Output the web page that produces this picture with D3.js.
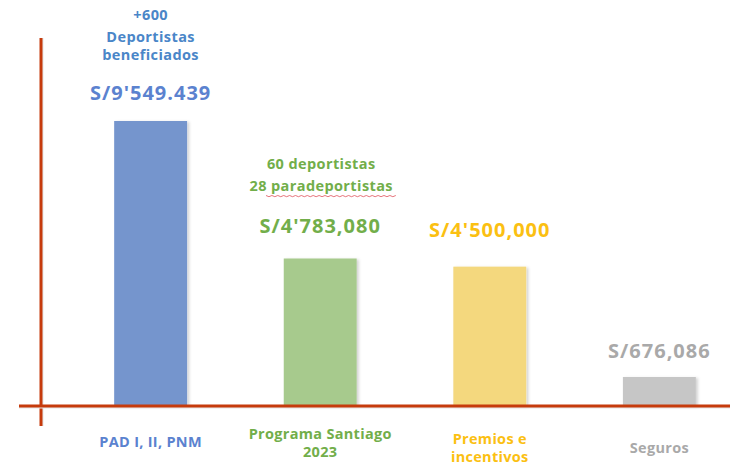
<!DOCTYPE html>
<html>
<head>
<meta charset="utf-8">
<script src="https://cdn.jsdelivr.net/npm/d3@7"></script>
<style>
body{margin:0;background:#fff;}
svg text{font-family:"Open Sans",Lato,sans-serif;font-weight:bold;}
</style>
</head>
<body>
<svg id="chart"></svg>
<script>
var categories=["PAD I, II, PNM","Programa Santiago|2023","Premios e|incentivos","Seguros"];
var values=[9549439,4783080,4500000,676086];
var valueLabels=["S/9'549.439","S/4'783,080","S/4'500,000","S/676,086"];
var notes=[["+600","Deportistas","beneficiados"],["60 deportistas","28 paradeportistas"],[],[]];
var barColors=["#7595cd","#a7ca8d","#f4d87e","#c6c6c6"];
var textColors=["#5b82cf","#72ae4a","#fbc012","#a9a9a9"];
var noteColors=["#4a86c8","#72ae4a"];

var width=730,height=465;
var margin={left:41,right:0,top:38,bottom:59};
var base=height-margin.bottom; // ~406

var svg=d3.select("#chart")
  .attr("width",width)
  .attr("height",height);

var xScale=d3.scaleBand()
  .domain(d3.range(categories.length))
  .range([65,745])
  .paddingInner(0.57)
  .paddingOuter(0.29);
var yScale=d3.scaleLinear()
  .domain([-330000,9549439])
  .range([base,121]);

// bar shadow
var defs=svg.append("defs");
var f=defs.append("filter").attr("id","sh").attr("x","-20%").attr("y","-20%").attr("width","140%").attr("height","140%");
f.append("feDropShadow").attr("dx",2).attr("dy",1).attr("stdDeviation",1.5).attr("flood-color","#000").attr("flood-opacity",0.18);

svg.selectAll("rect.bar")
  .data(values)
  .enter()
  .append("rect")
  .attr("class","bar")
  .attr("x",function(d,i){return xScale(i);})
  .attr("y",function(d){return yScale(d);})
  .attr("width",xScale.bandwidth())
  .attr("height",function(d){return base-yScale(d);})
  .attr("fill",function(d,i){return barColors[i];})
  .attr("filter","url(#sh)");

// axes lines
svg.append("line")
  .attr("x1",42).attr("x2",42).attr("y1",38).attr("y2",426)
  .attr("stroke","#e6e6e6").attr("stroke-width",3);
svg.append("line")
  .attr("x1",41).attr("x2",41).attr("y1",38).attr("y2",426)
  .attr("stroke","#c63b0c").attr("stroke-width",3);
svg.append("line")
  .attr("x1",19).attr("x2",width).attr("y1",base+1.5).attr("y2",base+1.5)
  .attr("stroke","#e6e6e6").attr("stroke-width",2);
svg.append("line")
  .attr("x1",19).attr("x2",width).attr("y1",base).attr("y2",base)
  .attr("stroke","#c63b0c").attr("stroke-width",3);

// value labels
svg.selectAll("text.val")
  .data(values)
  .enter()
  .append("text")
  .attr("class","val")
  .attr("x",function(d,i){return xScale(i)+xScale.bandwidth()/2;})
  .attr("y",function(d,i){
    if(i==0) return 100;
    if(i==1) return 233;
    if(i==2) return 237;
    return 358;
  })
  .attr("text-anchor","middle")
  .attr("font-size",20)
  .attr("letter-spacing",1)
  .attr("fill",function(d,i){return textColors[i];})
  .text(function(d,i){return valueLabels[i];});

// notes above
var noteY=[[20,42,60],[169,191]];
notes.forEach(function(lines,i){
  lines.forEach(function(t,j){
    svg.append("text")
      .attr("x",xScale(i)+xScale.bandwidth()/2+(i==1?1:0))
      .attr("y",noteY[i][j])
      .attr("text-anchor","middle")
      .attr("font-size",14.5)
      .attr("letter-spacing",0.4)
      .attr("fill",noteColors[i])
      .text(t);
  });
});
// spell-check squiggle under "paradeportistas"
var sq="M 266 195.5";
for(var k=0;k<44;k++){sq+=" l 2.95 "+(k%2==0?1.2:-1.2);}
svg.append("path").attr("d",sq).attr("fill","none").attr("stroke","#e0505a").attr("stroke-width",0.8);

// category labels
svg.selectAll("g.cat")
  .data(categories)
  .enter()
  .append("g")
  .attr("class","cat")
  .each(function(d,i){
    var parts=d.split("|");
    var y0=parts.length==1?(i==3?453:447):(i==1?439:444);
    var g=d3.select(this);
    parts.forEach(function(p,j){
      g.append("text")
        .attr("x",xScale(i)+xScale.bandwidth()/2)
        .attr("y",y0+j*18)
        .attr("text-anchor","middle")
        .attr("font-size",14.5)
        .attr("letter-spacing",0.3)
        .attr("fill",textColors[i])
        .text(p);
    });
  });
</script>
</body>
</html>
